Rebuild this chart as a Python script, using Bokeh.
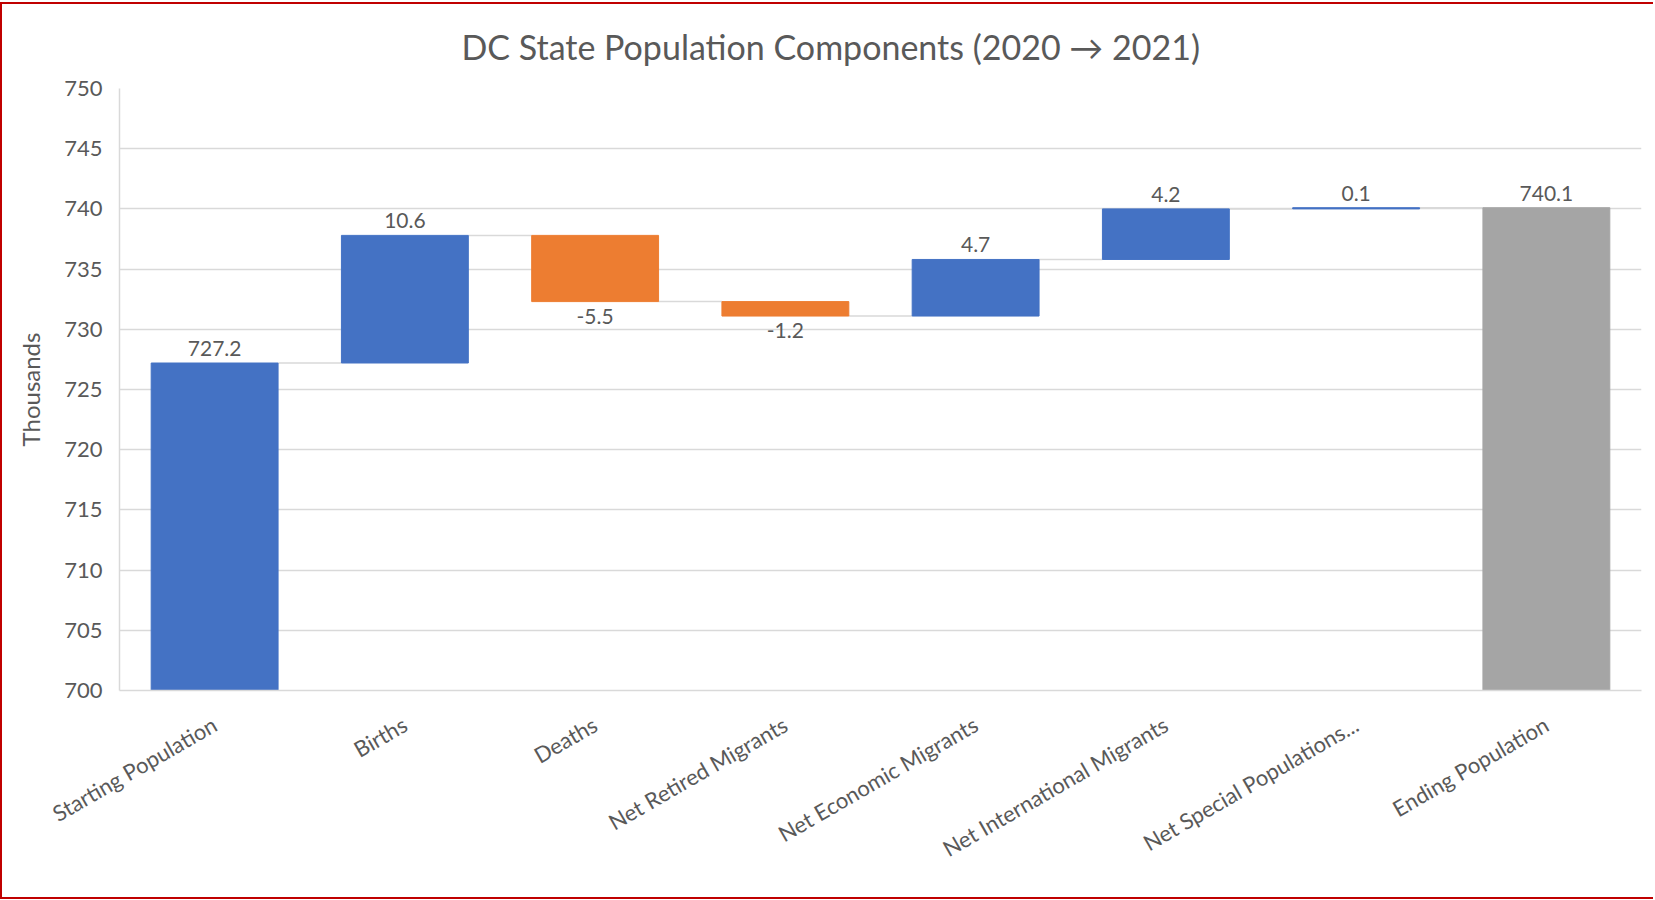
import math

from bokeh.core.properties import value
from bokeh.embed import file_html
from bokeh.models import ColumnDataSource, FactorRange, Range1d
from bokeh.plotting import figure
from bokeh.resources import INLINE

# Components of population change, in thousands
categories = [
    "Starting Population",
    "Births",
    "Deaths",
    "Net Retired Migrants",
    "Net Economic Migrants",
    "Net International Migrants",
    "Net Special Populations...",
    "Ending Population",
]
changes = [727.2, 10.6, -5.5, -1.2, 4.7, 4.2, 0.1, 740.1]
kinds = ["total", "step", "step", "step", "step", "step", "step", "total"]
y_ticks = [700, 705, 710, 715, 720, 725, 730, 735, 740, 745, 750]
title_text = "DC State Population Components (2020 \u2192 2021)"

FONT = "Lato"
TEXT = "#595959"
GRID = "#d9d9d9"
COLORS = {"up": "#4472c4", "down": "#ed7d31", "total": "#a5a5a5"}

# Build the waterfall geometry from the running total
bottoms, tops, fills, ends = [], [], [], []
running = 0.0
for cat, delta, kind in zip(categories, changes, kinds):
    if kind == "total":
        running = delta
        bottoms.append(0.0)
        tops.append(delta)
        fills.append(COLORS["up"] if cat == categories[0] else COLORS["total"])
    else:
        start = running
        running = round(running + delta, 1)
        bottoms.append(min(start, running))
        tops.append(max(start, running))
        fills.append(COLORS["up"] if delta >= 0 else COLORS["down"])
    ends.append(running)

labels = [f"{v:.1f}" for v in changes]
above = [c >= 0 for c in changes]

bars = ColumnDataSource(dict(x=categories, bottom=bottoms, top=tops, color=fills))
up_src = ColumnDataSource(dict(
    x=[c for c, a in zip(categories, above) if a],
    y=[t for t, a in zip(tops, above) if a],
    text=[l for l, a in zip(labels, above) if a],
))
down_src = ColumnDataSource(dict(
    x=[c for c, a in zip(categories, above) if not a],
    y=[b for b, a in zip(bottoms, above) if not a],
    text=[l for l, a in zip(labels, above) if not a],
))

BAR_W = 0.667
half = BAR_W / 2
conn = ColumnDataSource(dict(
    x0=[(c, half) for c in categories[:-1]],
    x1=[(c, -half) for c in categories[1:]],
    y=ends[:-1],
))

p = figure(
    x_range=FactorRange(*categories, range_padding=0),
    y_range=Range1d(700, 750),
    width=1653,
    height=897,
    output_backend="svg",
    toolbar_location=None,
    min_border_left=117,
    min_border_right=14,
    min_border_top=84,
    min_border_bottom=211,
    title=title_text,
)
p.styles = {
    "border-top": "2px solid #c00000",
    "border-left": "2px solid #c00000",
    "border-bottom": "2px solid #c00000",
    "margin-top": "2px",
}

# Title is centred on the whole chart rather than on the plotting frame
p.title.align = "left"
p.title.offset = 342
p.title.vertical_align = "top"
p.title.standoff = 39
p.title.text_font = FONT
p.title.text_font_size = "34px"
p.title.text_font_style = "normal"
p.title.text_color = TEXT

p.outline_line_color = None
p.background_fill_color = "white"
p.border_fill_color = "white"

p.xgrid.grid_line_color = None
p.ygrid.grid_line_color = GRID
p.ygrid.grid_line_width = 1.5
p.yaxis.ticker = y_ticks

p.segment(x0="x0", y0="y", x1="x1", y1="y", source=conn,
          line_color=GRID, line_width=1.5)

p.vbar(x="x", bottom="bottom", top="top", width=BAR_W, source=bars,
       fill_color="color", line_color="color", line_width=1)

p.text(x="x", y="y", text="text", source=up_src,
       text_align="center", text_baseline="bottom", y_offset=-7,
       text_font=value(FONT), text_font_size="21px", text_color=TEXT)
p.text(x="x", y="y", text="text", source=down_src,
       text_align="center", text_baseline="top", y_offset=7,
       text_font=value(FONT), text_font_size="21px", text_color=TEXT)

for ax in (p.xaxis, p.yaxis):
    ax.axis_line_color = GRID
    ax.axis_line_width = 1.5
    ax.major_tick_line_color = None
    ax.minor_tick_line_color = None
    ax.major_label_text_font = FONT
    ax.major_label_text_color = TEXT

p.yaxis.major_label_text_font_size = "22px"
p.yaxis.major_label_standoff = 11
p.yaxis.axis_label = "Thousands"
p.yaxis.axis_label_text_font = FONT
p.yaxis.axis_label_text_font_size = "24px"
p.yaxis.axis_label_text_font_style = "normal"
p.yaxis.axis_label_text_color = TEXT
p.yaxis.axis_label_standoff = 16

p.xaxis.major_label_text_font_size = "22px"
p.xaxis.major_label_orientation = math.pi / 6
p.xaxis.major_label_standoff = 26

open("out.html", "w").write(file_html(p, INLINE))
